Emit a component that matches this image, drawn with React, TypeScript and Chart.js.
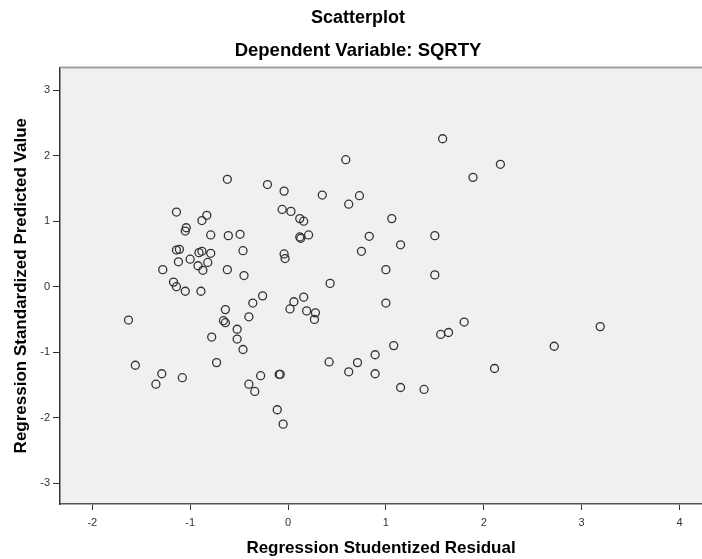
import { useEffect, useRef } from "react";
import { Chart, registerables } from "chart.js";

Chart.register(...registerables);

const chartTitle = "Scatterplot";
const chartSubtitle = "Dependent Variable: SQRTY";
const xAxisTitle = "Regression Studentized Residual";
const yAxisTitle = "Regression Standardized Predicted Value";

const xTickValues = [-2, -1, 0, 1, 2, 3, 4];
const yTickValues = [-3, -2, -1, 0, 1, 2, 3];

const studentizedResidual = [
  -0.62, -0.21, -0.04, -0.06, 0.03, 0.12, 0.16, 0.12, 0.13, 0.21,
  -1.14, -0.83, -0.88, -1.04, -1.05, -0.79, -0.61, -0.49, -1.14, -1.11,
  -0.91, -0.88, -0.79, -0.46, -0.04, -0.03, -1.12, -1.0, -0.82, -0.92,
  -0.87, -1.28, -0.62, -0.45, -1.17, -1.14, -1.05, -0.89, -0.26, -0.36,
  0.06, 0.02, -1.63, -0.64, -0.4, -0.66, -0.64, -0.52, -0.78, -0.52,
  -0.46, -0.73, -1.56, -1.29, -1.35, -1.08, -0.28, -0.09, -0.08, -0.4,
  -0.34, -0.11, -0.05, 1.58, 0.59, 2.17, 1.89, 0.35, 0.73, 0.62,
  1.06, 0.83, 1.5, 1.15, 0.75, 1.0, 1.5, 0.43, 0.16, 0.19,
  0.28, 0.27, 1.0, 1.8, 1.64, 1.56, 1.08, 0.89, 0.71, 0.42,
  0.62, 0.89, 1.15, 1.39, 2.11, 3.19, 2.72,
];

const standardizedPredicted = [
  1.64, 1.56, 1.46, 1.18, 1.15, 1.04, 1.0, 0.76, 0.74, 0.79,
  1.14, 1.09, 1.01, 0.9, 0.85, 0.79, 0.78, 0.8, 0.56, 0.57,
  0.52, 0.54, 0.51, 0.55, 0.5, 0.43, 0.38, 0.42, 0.37, 0.32,
  0.25, 0.26, 0.26, 0.17, 0.07, 0.0, -0.07, -0.07, -0.14, -0.25,
  -0.23, -0.34, -0.51, -0.35, -0.46, -0.52, -0.55, -0.65, -0.77, -0.8,
  -0.96, -1.16, -1.2, -1.33, -1.49, -1.39, -1.36, -1.34, -1.34, -1.49,
  -1.6, -1.88, -2.1, 2.26, 1.94, 1.87, 1.67, 1.4, 1.39, 1.26,
  1.04, 0.77, 0.78, 0.64, 0.54, 0.26, 0.18, 0.05, -0.16, -0.37,
  -0.4, -0.5, -0.25, -0.54, -0.7, -0.73, -0.9, -1.04, -1.16, -1.15,
  -1.3, -1.33, -1.54, -1.57, -1.25, -0.61, -0.91,
];

const FONT = "'Liberation Sans', Arial, Helvetica, sans-serif";

const plotBackground = {
  id: "plotBackground",
  beforeDraw(chart: any) {
    const { ctx, chartArea } = chart;
    if (!chartArea) return;
    ctx.save();
    ctx.fillStyle = "#f0f0f0";
    ctx.fillRect(chartArea.left, chartArea.top, chartArea.right - chartArea.left, chartArea.bottom - chartArea.top);
    ctx.restore();
  },
  afterDraw(chart: any) {
    const { ctx, chartArea } = chart;
    if (!chartArea) return;
    ctx.save();
    ctx.strokeStyle = "#a0a0a0";
    ctx.lineWidth = 2;
    ctx.beginPath();
    ctx.moveTo(chartArea.left, chartArea.top);
    ctx.lineTo(chartArea.right, chartArea.top);
    ctx.stroke();
    ctx.restore();
  },
};

export default function App() {
  const canvasRef = useRef<HTMLCanvasElement | null>(null);

  useEffect(() => {
    const canvas = canvasRef.current;
    if (!canvas) return;
    const points = studentizedResidual.map((x, i) => ({ x, y: standardizedPredicted[i] }));
    const chart = new Chart(canvas, {
      type: "scatter",
      data: {
        datasets: [
          {
            data: points,
            pointRadius: 4,
            pointHoverRadius: 4,
            pointBorderWidth: 1.3,
            borderColor: "#333",
            backgroundColor: "rgba(0,0,0,0)",
            pointStyle: "circle",
          },
        ],
      },
      options: {
        animation: false,
        responsive: false,
        events: [],
        layout: { padding: { left: 14, right: 0, top: 0, bottom: 0 }, autoPadding: false },
        plugins: {
          legend: { display: false },
          tooltip: { enabled: false },
          title: {
            display: true,
            text: chartTitle,
            color: "#000",
            font: { family: FONT, size: 18, weight: "bold", lineHeight: 1.2 },
            padding: { top: 7.6, bottom: 0 },
          },
          subtitle: {
            display: true,
            text: chartSubtitle,
            color: "#000",
            font: { family: FONT, size: 18.5, weight: "bold", lineHeight: 1.2 },
            padding: { top: 11, bottom: 5 },
          },
        },
        scales: {
          x: {
            type: "linear",
            min: -2.33,
            max: 4.23,
            afterBuildTicks: (scale: any) => {
              scale.ticks = xTickValues.map((v) => ({ value: v }));
            },
            afterFit: (scale: any) => {
              scale.height = 55;
            },
            grid: { display: true, drawOnChartArea: false, drawTicks: true, tickLength: 6, color: "#333", lineWidth: 1 },
            border: { display: true, color: "#555", width: 1.5 },
            ticks: { color: "#333", font: { family: FONT, size: 11 }, padding: 6, maxRotation: 0, autoSkip: false },
            title: {
              display: true,
              text: xAxisTitle,
              color: "#000",
              font: { family: FONT, size: 17, weight: "bold", lineHeight: 1.2 },
              padding: { top: 0, bottom: 0 },
            },
          },
          y: {
            type: "linear",
            min: -3.32,
            max: 3.35,
            afterBuildTicks: (scale: any) => {
              scale.ticks = yTickValues.map((v) => ({ value: v }));
            },
            afterFit: (scale: any) => {
              scale.width = 46;
            },
            grid: { display: true, drawOnChartArea: false, drawTicks: true, tickLength: 7, color: "#333", lineWidth: 1 },
            border: { display: true, color: "#333", width: 1.5 },
            ticks: { color: "#333", font: { family: FONT, size: 11 }, padding: 3, autoSkip: false },
            title: {
              display: true,
              text: yAxisTitle,
              color: "#000",
              font: { family: FONT, size: 17, weight: "bold", lineHeight: 1.2 },
              padding: { top: -3, bottom: 0 },
            },
          },
        },
      },
      plugins: [plotBackground],
    });
    return () => chart.destroy();
  }, []);

  return (
    <div style={{ position: "absolute", left: 0, top: 0, width: 702, height: 559, background: "#fff" }}>
      <canvas ref={canvasRef} width={702} height={559} style={{ display: "block", width: 702, height: 559 }} />
    </div>
  );
}
